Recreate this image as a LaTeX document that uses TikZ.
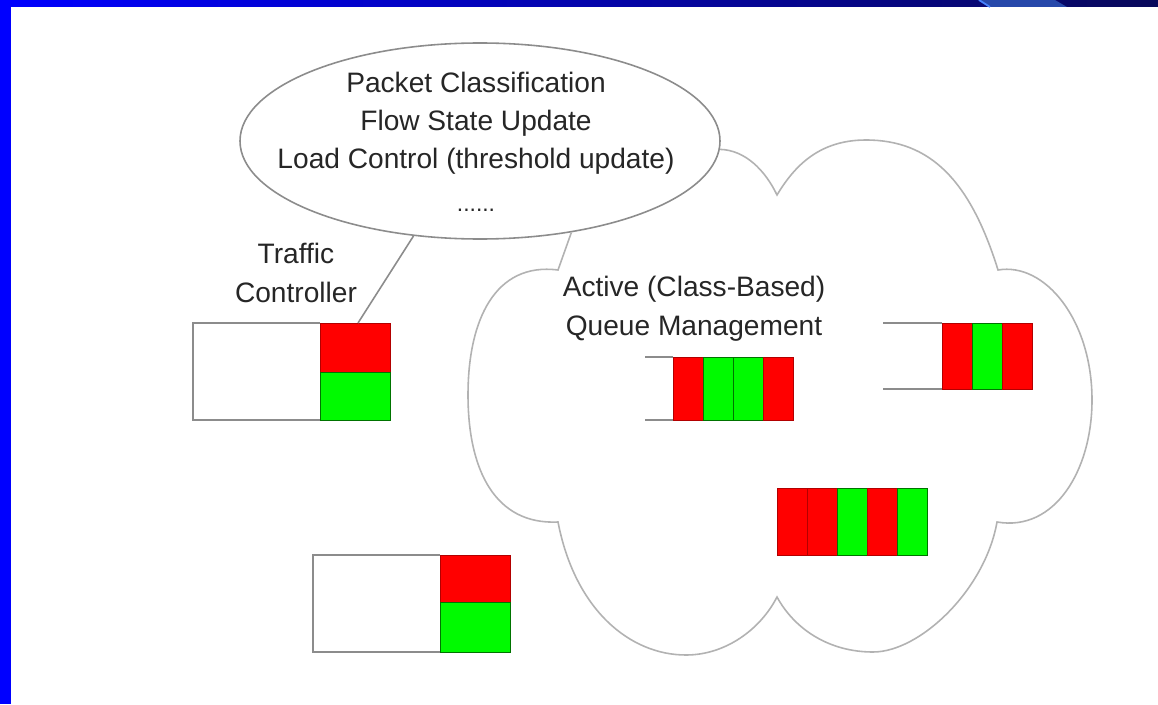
\documentclass[tikz,border=0pt]{standalone}
\usepackage{fontspec}
\setmainfont{Liberation Sans}
\usetikzlibrary{shapes.geometric}
\definecolor{slideblue}{RGB}{0,0,255}
\definecolor{slidenavy}{RGB}{8,8,90}
\definecolor{patchblue}{RGB}{38,72,170}
\definecolor{edgeblue}{RGB}{70,130,255}
\definecolor{pktred}{RGB}{255,0,0}
\definecolor{pktgreen}{RGB}{0,250,0}

\begin{document}
\begin{tikzpicture}[x=0.2mm, y=-0.2mm,
    outline/.style={draw=black!45, line width=0.9pt},
    cloudline/.style={draw=black!30, line width=0.9pt},
    txt/.style={text=black!85, font=\fontsize{16}{22}\selectfont, align=center, inner sep=0pt},
    pr/.style={fill=pktred, draw=red!70!black, line width=0.3pt},
    pg/.style={fill=pktgreen, draw=green!45!black, line width=0.3pt}]
    % slide frame
    \useasboundingbox (0,0) rectangle (1158,704);
    \fill[white] (0,0) rectangle (1158,704);
    \shade[left color=slideblue, right color=slidenavy] (0,0) rectangle (1158,7);
    \fill[patchblue] (978,0) -- (1055,0) -- (1067,7) -- (990,7) -- cycle;
    \draw[edgeblue, line width=1pt] (979,0) -- (990,7);
    \fill[slideblue] (0,0) rectangle (11,704);

    % operations bubble
    \node[ellipse, outline, minimum width=9.6cm, minimum height=3.92cm, inner sep=0pt] (ops) at (480,141) {};
    \node[txt, font=\fontsize{16}{21.5}\selectfont] (opstext) at (476,142)
        {Packet Classification\\Flow State Update\\Load Control (threshold update)\\[3.5pt]{\fontsize{13}{13}\selectfont......}};

    % cloud
    \draw[cloudline] (ops.-45) -- (558,270)
        .. controls (495,262) and (468,320) .. (468,395)
        .. controls (468,470) and (495,525) .. (558,522)
        .. controls (575,610) and (630,655) .. (686,655)
        .. controls (725,655) and (760,630) .. (777,597)
        .. controls (795,630) and (830,652) .. (873,652)
        .. controls (920,652) and (985,590) .. (997,522)
        .. controls (1055,532) and (1092,470) .. (1092,400)
        .. controls (1092,320) and (1045,262) .. (998,270)
        .. controls (970,180) and (930,140) .. (866,140)
        .. controls (820,140) and (795,165) .. (777,195)
        .. controls (765,170) and (745,150) .. (ops.-2);

    % traffic controller queues
    \draw[outline] (320,323) -- (193,323) -- (193,420) -- (320,420);
    \draw[pr] (320,323) rectangle (390,372);
    \draw[pg] (320,372) rectangle (390,420);
    \coordinate (tcin) at (358,323);
    \draw[outline] (ops.-125) -- (tcin);
    \node[txt] (tclabel) at (296,273) {Traffic\\Controller};

    \draw[outline] (440,555) -- (313,555) -- (313,652) -- (440,652);
    \draw[pr] (440,555) rectangle (510,602);
    \draw[pg] (440,602) rectangle (510,652);

    % queues in the cloud
    \node[txt] (aqm) at (694,309) {Active (Class-Based)\\Queue Management};
    \draw[outline] (673,357) -- (645,357) (645,420) -- (673,420);
    \foreach \x/\s in {673/pr,703/pg,733/pg,763/pr}
        \draw[\s] (\x,357) rectangle ++(30,63);

    \draw[outline] (942,323) -- (883,323) (883,389) -- (942,389);
    \foreach \x/\s in {942/pr,972/pg,1002/pr}
        \draw[\s] (\x,323) rectangle ++(30,66);

    \foreach \x/\s in {777/pr,807/pr,837/pg,867/pr,897/pg}
        \draw[\s] (\x,488) rectangle ++(30,67);
\end{tikzpicture}
\end{document}
